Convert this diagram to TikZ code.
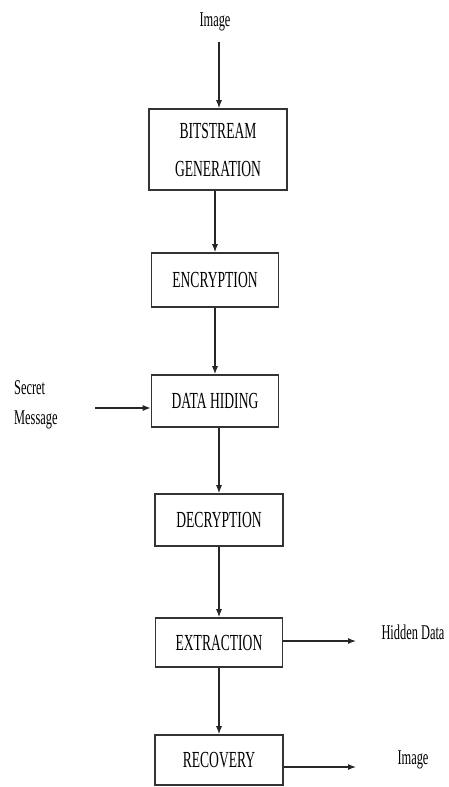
\documentclass[tikz,border=0pt]{standalone}
\usepackage{fontspec}
\setmainfont{Liberation Serif}[FakeStretch=0.59]
\usetikzlibrary{arrows.meta}
\begin{document}
\begin{tikzpicture}[x=1pt,y=-1pt,
  blk/.style={draw=black!80,line width=1.6pt,rectangle,inner sep=0pt,
    font=\fontsize{23}{38}\selectfont,align=center},
  lbl/.style={inner sep=0pt,font=\fontsize{21}{30}\selectfont},
  arr/.style={draw=black!85,line width=1.1pt,-{Latex[length=8pt,width=6pt]}}]
\useasboundingbox (0,0) rectangle (449,787);
\node[lbl] (img) at (215,22) {Image};
\node[blk,minimum width=138pt,minimum height=81pt] (b1) at (218,149.5) {BITSTREAM\\GENERATION};
\node[blk,minimum width=127pt,minimum height=54pt] (b2) at (215,280) {ENCRYPTION};
\node[blk,minimum width=127pt,minimum height=52pt] (b3) at (215,401) {DATA HIDING};
\node[blk,minimum width=128pt,minimum height=52pt] (b4) at (219,520) {DECRYPTION};
\node[blk,minimum width=127pt,minimum height=49pt] (b5) at (219,642.5) {EXTRACTION};
\node[blk,minimum width=128pt,minimum height=50pt] (b6) at (219,760) {RECOVERY};
\node[lbl,align=left,anchor=west] (sm) at (14,405) {Secret\\Message};
\node[lbl] (hd) at (413,632) {Hidden Data};
\node[lbl] (img2) at (413,760) {Image};
\coordinate (top) at (219,42);
\coordinate (sin) at (95,408);
\coordinate (o1) at (356,641);
\coordinate (o2) at (356,767);
\draw[arr] (top) -- (top |- b1.north);
\draw[arr] (b2.north |- b1.south) -- (b2.north);
\draw[arr] (b2.south) -- (b3.north);
\draw[arr] (b4.north |- b3.south) -- (b4.north);
\draw[arr] (b4.south) -- (b5.north);
\draw[arr] (b5.south) -- (b6.north);
\draw[arr] (sin) -- (sin -| b3.west);
\draw[arr] (o1 -| b5.east) -- (o1);
\draw[arr] (o2 -| b6.east) -- (o2);
\end{tikzpicture}
\end{document}
